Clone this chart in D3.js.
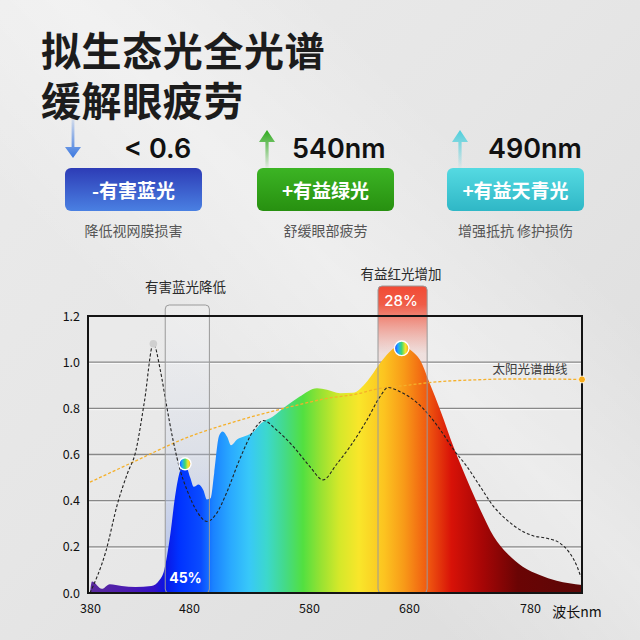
<!DOCTYPE html>
<html>
 <head>
   <meta charset="utf-8">
   <title>拟生态光全光谱</title>
   <script type="text/javascript" src="https://cdn.jsdelivr.net/npm/d3@7"></script>
   <style type="text/css">
		body {
			margin: 0;
			background: #e6e6e6;
		}
		svg {
			display: block;
		}
		text {
			font-family: "Noto Sans CJK SC", "Noto Sans", sans-serif;
		}
		.num {
			font-family: Inter, "Noto Sans", sans-serif;
		}
   </style>
 </head>
 <body>
	<div class="main"></div>
   <script type="text/javascript">

	// measured spectrum of the lamp (nm, relative intensity)
	var spectrum = [
		[380,0],[382,0.05],[392,0.018],[400,0.038],[412,0.03],[426,0.026],[442,0.03],
		[450,0.055],[455,0.10],[461,0.25],[466,0.42],[471,0.53],[476,0.56],[481,0.50],
		[484,0.46],[488,0.47],[492,0.445],[495,0.405],[498,0.41],[501,0.52],[505,0.68],
		[508,0.70],[512,0.675],[515,0.64],[520,0.665],[527,0.68],[534,0.70],[540,0.735],
		[550,0.765],[561,0.81],[572,0.85],[588,0.887],[598,0.88],[611,0.865],[624,0.867],
		[638,0.916],[651,0.995],[661,1.046],[672,1.075],[682,1.05],[689,1.01],[697,0.91],
		[706,0.79],[717,0.63],[728,0.49],[739,0.36],[750,0.245],[761,0.172],[774,0.114],
		[788,0.078],[802,0.053],[823,0.035]
	];

	// ordinary lamp, dashed black
	var oldLamp = [
		[380,0],[396,0.18],[408,0.39],[418,0.52],[426,0.61],[435,0.83],[444,1.08],
		[451,0.966],[457,0.82],[464,0.66],[471,0.533],[478,0.446],[487,0.35],[495,0.31],
		[503,0.345],[511,0.43],[522,0.576],[534,0.706],[542,0.747],[553,0.706],[567,0.634],
		[581,0.547],[594,0.49],[608,0.56],[621,0.634],[638,0.75],[651,0.85],[659,0.89],
		[671,0.872],[684,0.836],[695,0.78],[706,0.706],[717,0.62],[728,0.547],[739,0.46],
		[750,0.374],[761,0.316],[772,0.273],[783,0.247],[794,0.237],[805,0.215],[813,0.172],
		[819,0.114],[822,0.07]
	];

	// sunlight, dashed orange
	var sunlight = [
		[380,0.48],[425,0.57],[476,0.67],[520,0.745],[567,0.81],[598,0.843],[631,0.865],
		[644,0.88],[678,0.90],[706,0.916],[733,0.923],[761,0.927],[788,0.927],[823,0.925]
	];

	// wavelength colours for the area fill
	var specColors = [
		[380,'#5b2a9c'],[420,'#4a1ab2'],[445,'#3312c8'],[455,'#0c14e2'],[470,'#0032ff'],
		[490,'#0a4cff'],[500,'#1a82ff'],[515,'#2aaaff'],[530,'#38c8f8'],[545,'#3cd8cc'],
		[560,'#44da88'],[575,'#52e040'],[592,'#98e232'],[610,'#d4e82a'],[630,'#f9e62a'],
		[655,'#fcc420'],[675,'#f89a18'],[695,'#f05a10'],[715,'#d81208'],[740,'#a80606'],
		[770,'#6a0404'],[823,'#5c0707']
	];

	var yTicks = [0, 0.2, 0.4, 0.6, 0.8, 1.0, 1.2];
	var xTicks = [380, 480, 580, 680, 780];
	var gridVals = [0.2, 0.4, 0.6, 0.8, 1.0];

	var cards = [
		{ value: '< 0.6', label: '-有害蓝光', note: '降低视网膜损害', dir: 'down', top: '#2d3cb6', bot: '#4a80e2', arrow: '#3b78e0' },
		{ value: '540nm', label: '+有益绿光', note: '舒缓眼部疲劳', dir: 'up', top: '#3cb424', bot: '#279010', arrow: '#2eaa1c' },
		{ value: '490nm', label: '+有益天青光', note: '增强抵抗 修护损伤', dir: 'up', top: '#55dae2', bot: '#2fb7c6', arrow: '#4ccfdc' }
	];

	var W = 640, H = 640;
	var pL = 88, pR = 582, pT = 316, pB = 593;

	var svg = d3.select('.main').append('svg')
		.attr('width', W)
		.attr('height', H);
	var defs = svg.append('defs');

	// background
	var bg = defs.append('linearGradient').attr('id', 'bg')
		.attr('x1', 0).attr('y1', 0).attr('x2', 1).attr('y2', 1);
	bg.append('stop').attr('offset', 0).attr('stop-color', '#ebebeb');
	bg.append('stop').attr('offset', 0.45).attr('stop-color', '#e6e6e6');
	bg.append('stop').attr('offset', 1).attr('stop-color', '#dcdcdc');
	svg.append('rect').attr('width', W).attr('height', H).attr('fill', 'url(#bg)');

	var band = defs.append('linearGradient').attr('id', 'band')
		.attr('x1', 0).attr('y1', 1).attr('x2', 1).attr('y2', 0);
	band.append('stop').attr('offset', 0.35).attr('stop-color', '#fff').attr('stop-opacity', 0);
	band.append('stop').attr('offset', 0.55).attr('stop-color', '#fff').attr('stop-opacity', 0.35);
	band.append('stop').attr('offset', 0.75).attr('stop-color', '#fff').attr('stop-opacity', 0);
	svg.append('rect').attr('width', W).attr('height', H).attr('fill', 'url(#band)');

	// title
	svg.append('g').selectAll('text').data(['拟生态光全光谱', '缓解眼疲劳'])
		.enter().append('text')
		.attr('x', 41)
		.attr('y', function(d, i) { return 66 + i * 50; })
		.attr('font-size', 40)
		.attr('font-weight', 700)
		.attr('letter-spacing', 0.6)
		.attr('fill', '#1c1c1c')
		.text(function(d) { return d; });

	// three cards
	var cardX = [65, 257, 447], cardW = 137;
	cards.forEach(function(c, i) {
		var x0 = cardX[i], cx = x0 + cardW / 2;
		var g = svg.append('g');

		var bgId = 'card' + i;
		var lg = defs.append('linearGradient').attr('id', bgId)
			.attr('x1', 0).attr('y1', 0).attr('x2', 0).attr('y2', 1);
		lg.append('stop').attr('offset', 0).attr('stop-color', c.top);
		lg.append('stop').attr('offset', 1).attr('stop-color', c.bot);

		var arId = 'arrow' + i;
		var ag = defs.append('linearGradient').attr('id', arId)
			.attr('x1', 0).attr('y1', 0).attr('x2', 0).attr('y2', 1);
		ag.append('stop').attr('offset', 0).attr('stop-color', c.arrow).attr('stop-opacity', c.dir == 'down' ? 0.1 : 1);
		ag.append('stop').attr('offset', 1).attr('stop-color', c.arrow).attr('stop-opacity', c.dir == 'down' ? 1 : 0.05);

		var ax = x0 + (i == 0 ? 8 : (i == 1 ? 10 : 13));
		var path;
		if (c.dir == 'down') {
			path = 'M' + (ax - 1.4) + ',117 L' + (ax + 1.4) + ',117 L' + (ax + 1.4) + ',147 L' + (ax + 8) + ',147 L' + ax + ',158 L' + (ax - 8) + ',147 L' + (ax - 1.4) + ',147 Z';
		} else {
			path = 'M' + ax + ',130 L' + (ax + 8) + ',142 L' + (ax + 1.6) + ',142 L' + (ax + 1.6) + ',168 L' + (ax - 1.6) + ',168 L' + (ax - 1.6) + ',142 L' + (ax - 8) + ',142 Z';
		}
		g.append('path').attr('d', path).attr('fill', 'url(#' + arId + ')');

		g.append('text').attr('class', 'num')
			.attr('x', i == 0 ? 124 : x0 + (i == 1 ? 35 : 41))
			.attr('y', 158)
			.attr('font-size', 27)
			.attr('font-weight', 600)
			.attr('fill', '#111')
			.text(c.value);

		g.append('rect')
			.attr('x', x0).attr('y', 168)
			.attr('width', cardW).attr('height', 43)
			.attr('rx', 6)
			.attr('fill', 'url(#' + bgId + ')');

		g.append('text')
			.attr('x', cx).attr('y', 198)
			.attr('text-anchor', 'middle')
			.attr('font-size', 19)
			.attr('font-weight', 700)
			.attr('fill', '#fff')
			.text(c.label);

		g.append('text')
			.attr('x', cx).attr('y', 236)
			.attr('text-anchor', 'middle')
			.attr('font-size', 14)
			.attr('fill', '#555')
			.text(c.note);
	});

	// chart
	var x = d3.scaleLinear()
		.domain([378, 480, 580, 680, 780, 823])
		.range([pL, 189, 309, 409, 530, pR]);
	var y = d3.scaleLinear().domain([0, 1.2]).range([pB, pT]);

	var chart = svg.append('g');

	chart.append('rect')
		.attr('x', pL).attr('y', pT)
		.attr('width', pR - pL).attr('height', pB - pT)
		.attr('fill', '#fff').attr('fill-opacity', 0.12);

	// grid
	chart.selectAll('line.gridw').data(gridVals)
		.enter().append('line')
		.attr('class', 'gridw')
		.attr('x1', pL).attr('x2', pR)
		.attr('y1', function(d) { return y(d) + 1.3; })
		.attr('y2', function(d) { return y(d) + 1.3; })
		.attr('stroke', '#fafafa').attr('stroke-width', 1);
	chart.selectAll('line.grid').data(gridVals)
		.enter().append('line')
		.attr('class', 'grid')
		.attr('x1', pL).attr('x2', pR)
		.attr('y1', function(d) { return y(d); })
		.attr('y2', function(d) { return y(d); })
		.attr('stroke', '#888').attr('stroke-width', 1.3);

	// highlight boxes (fill part, behind the spectrum)
	var blueBox = defs.append('linearGradient').attr('id', 'bluebox')
		.attr('x1', 0).attr('y1', 0).attr('x2', 0).attr('y2', 1);
	blueBox.append('stop').attr('offset', 0).attr('stop-color', '#fff').attr('stop-opacity', 0.15);
	blueBox.append('stop').attr('offset', 0.5).attr('stop-color', '#c4cfe8').attr('stop-opacity', 0.3);
	blueBox.append('stop').attr('offset', 1).attr('stop-color', '#8ea8ee').attr('stop-opacity', 0.75);

	var redBox = defs.append('linearGradient').attr('id', 'redbox')
		.attr('x1', 0).attr('y1', 0).attr('x2', 0).attr('y2', 1);
	redBox.append('stop').attr('offset', 0).attr('stop-color', '#f24a34').attr('stop-opacity', 1);
	redBox.append('stop').attr('offset', 0.06).attr('stop-color', '#f0553f').attr('stop-opacity', 0.95);
	redBox.append('stop').attr('offset', 0.22).attr('stop-color', '#ee8a7c').attr('stop-opacity', 0.15);
	redBox.append('stop').attr('offset', 1).attr('stop-color', '#fff').attr('stop-opacity', 0.05);

	var boxes = [
		{ x0: 456, x1: 497, y0: 305, fill: 'url(#bluebox)' },
		{ x0: 649, x1: 695, y0: 286, fill: 'url(#redbox)' }
	];
	chart.selectAll('rect.hl').data(boxes)
		.enter().append('rect')
		.attr('class', 'hl')
		.attr('x', function(d) { return x(d.x0); })
		.attr('y', function(d) { return d.y0; })
		.attr('width', function(d) { return x(d.x1) - x(d.x0); })
		.attr('height', function(d) { return pB - d.y0; })
		.attr('rx', 4)
		.attr('fill', function(d) { return d.fill; });

	// spectrum area
	var sg = defs.append('linearGradient').attr('id', 'spec')
		.attr('gradientUnits', 'userSpaceOnUse')
		.attr('x1', x(380)).attr('x2', x(823)).attr('y1', 0).attr('y2', 0);
	sg.selectAll('stop').data(specColors)
		.enter().append('stop')
		.attr('offset', function(d) { return (x(d[0]) - x(380)) / (x(823) - x(380)); })
		.attr('stop-color', function(d) { return d[1]; });

	var area = d3.area()
		.x(function(d) { return x(d[0]); })
		.y0(pB)
		.y1(function(d) { return y(d[1]); })
		.curve(d3.curveMonotoneX);
	chart.append('path').datum(spectrum)
		.attr('d', area)
		.attr('fill', 'url(#spec)');

	var line = d3.line()
		.x(function(d) { return x(d[0]); })
		.y(function(d) { return y(d[1]); })
		.curve(d3.curveMonotoneX);

	chart.append('path').datum(sunlight)
		.attr('d', line)
		.attr('fill', 'none')
		.attr('stroke', '#f5b02a')
		.attr('stroke-width', 1.3)
		.attr('stroke-dasharray', '3,2');

	chart.append('path').datum(oldLamp)
		.attr('d', line)
		.attr('fill', 'none')
		.attr('stroke', '#222')
		.attr('stroke-width', 1.1)
		.attr('stroke-dasharray', '3,2');

	// box outlines on top
	chart.selectAll('rect.hlo').data(boxes)
		.enter().append('rect')
		.attr('class', 'hlo')
		.attr('x', function(d) { return x(d.x0); })
		.attr('y', function(d) { return d.y0; })
		.attr('width', function(d) { return x(d.x1) - x(d.x0); })
		.attr('height', function(d) { return pB - d.y0; })
		.attr('rx', 4)
		.attr('fill', 'none')
		.attr('stroke', '#9a9a9a')
		.attr('stroke-width', 1);

	// frame
	chart.append('rect')
		.attr('x', pL).attr('y', pT)
		.attr('width', pR - pL).attr('height', pB - pT)
		.attr('fill', 'none')
		.attr('stroke', '#141414')
		.attr('stroke-width', 2);

	// markers
	var rb = defs.append('linearGradient').attr('id', 'rainbow');
	['#1a3cff', '#1fa8ff', '#3fd870', '#f3e82a', '#f8a020'].forEach(function(c, i) {
		rb.append('stop').attr('offset', i / 4).attr('stop-color', c);
	});
	chart.append('circle')
		.attr('cx', x(444)).attr('cy', y(1.08)).attr('r', 3.8)
		.attr('fill', '#cfcfcf');
	chart.append('circle')
		.attr('cx', x(823)).attr('cy', y(0.925)).attr('r', 3.5)
		.attr('fill', '#f8ad1c').attr('stroke', '#fff').attr('stroke-width', 0.8);
	chart.selectAll('circle.rb').data([[476, 0.56, 6], [672.7, 1.06, 7.3]])
		.enter().append('circle')
		.attr('class', 'rb')
		.attr('cx', function(d) { return x(d[0]); })
		.attr('cy', function(d) { return y(d[1]); })
		.attr('r', function(d) { return d[2]; })
		.attr('fill', 'url(#rainbow)')
		.attr('stroke', '#fff')
		.attr('stroke-width', 1.4);

	// box labels
	chart.append('text').attr('class', 'num')
		.attr('x', x(476.5)).attr('y', 583)
		.attr('text-anchor', 'middle')
		.attr('font-size', 14).attr('font-weight', 700)
		.attr('fill', '#fff')
		.text('45%');
	chart.append('text').attr('class', 'num')
		.attr('x', x(672)).attr('y', 306)
		.attr('text-anchor', 'middle')
		.attr('font-size', 15).attr('font-weight', 500)
		.attr('fill', '#fff')
		.text('28%');
	chart.append('text')
		.attr('x', x(476.5)).attr('y', 292)
		.attr('text-anchor', 'middle')
		.attr('font-size', 13.5)
		.attr('fill', '#2a2a2a')
		.text('有害蓝光降低');
	chart.append('text')
		.attr('x', x(672)).attr('y', 279)
		.attr('text-anchor', 'middle')
		.attr('font-size', 13.5)
		.attr('fill', '#2a2a2a')
		.text('有益红光增加');
	chart.append('text')
		.attr('x', 530).attr('y', 374)
		.attr('text-anchor', 'middle')
		.attr('font-size', 12.5)
		.attr('fill', '#3a3a3a')
		.text('太阳光谱曲线');

	// axes
	var yAxis = chart.append('g')
		.attr('transform', 'translate(' + (pL - 5) + ',0)')
		.call(d3.axisLeft(y).tickValues(yTicks).tickSize(0).tickFormat(d3.format('.1f')));
	var xAxis = chart.append('g')
		.attr('transform', 'translate(0,' + (pB + 8) + ')')
		.call(d3.axisBottom(x).tickValues(xTicks).tickSize(0));
	[yAxis, xAxis].forEach(function(a) {
		a.select('.domain').remove();
		a.selectAll('text')
			.attr('font-family', 'Inter, "Noto Sans", sans-serif')
			.attr('font-size', 12.5)
			.attr('fill', '#111');
	});

	chart.append('text')
		.attr('x', 577).attr('y', 617)
		.attr('text-anchor', 'middle')
		.attr('font-size', 14)
		.attr('fill', '#111')
		.text('波长nm');

    </script>
 </body>
</html>
